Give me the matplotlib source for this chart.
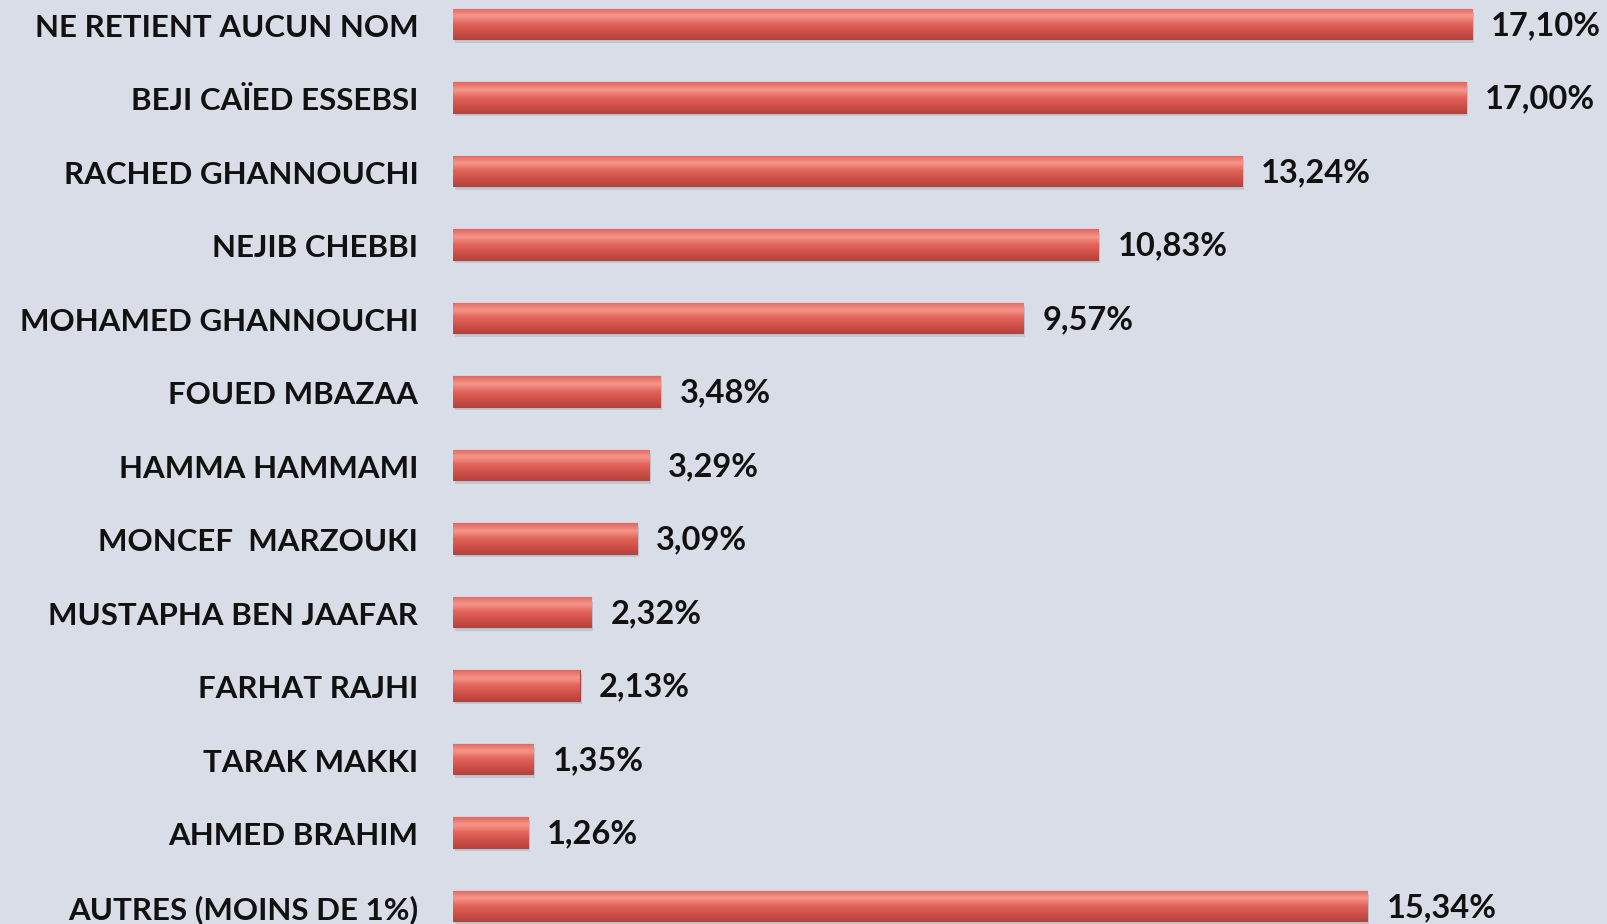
import numpy as np
import matplotlib.pyplot as plt
from matplotlib.colors import LinearSegmentedColormap

names = ['NE RETIENT AUCUN NOM', 'BEJI CAÏED ESSEBSI', 'RACHED GHANNOUCHI',
         'NEJIB CHEBBI', 'MOHAMED GHANNOUCHI', 'FOUED MBAZAA', 'HAMMA HAMMAMI',
         'MONCEF  MARZOUKI', 'MUSTAPHA BEN JAAFAR', 'FARHAT RAJHI',
         'TARAK MAKKI', 'AHMED BRAHIM', 'AUTRES (MOINS DE 1%)']
values = [17.10, 17.00, 13.24, 10.83, 9.57, 3.48, 3.29, 3.09, 2.32, 2.13, 1.35, 1.26, 15.34]
value_labels = ['17,10%', '17,00%', '13,24%', '10,83%', '9,57%', '3,48%', '3,29%',
                '3,09%', '2,32%', '2,13%', '1,35%', '1,26%', '15,34%']

plt.rcParams['font.family'] = ['Lato', 'DejaVu Sans']
plt.rcParams['font.weight'] = 'bold'

fig = plt.figure(figsize=(16.07, 9.24), dpi=100)
fig.patch.set_facecolor('#d9dde7')
ax = fig.add_axes([453/1607, 0, 1 - 453/1607, 1])
ax.set_facecolor('#d9dde7')

y = np.arange(len(names))
h = 0.41
# soft shadow under each bar
ax.barh(y + 0.05, values, height=h, left=0.03, color='#9a9aa8', alpha=0.35, zorder=1)
bars = ax.barh(y, values, height=h, color='#d4544c', edgecolor='#a9453f', lw=0.8, zorder=2)

# vertical gradient inside bars: light band near top, darker bottom
cmap = LinearSegmentedColormap.from_list('bar', ['#e0675e', '#f6968c', '#e2645b', '#cf5149', '#b8433d'])
grad = np.linspace(0, 1, 64).reshape(-1, 1)
for b in bars:
    x0, y0 = b.get_x(), b.get_y()
    w, hh = b.get_width(), b.get_height()
    im = ax.imshow(grad, cmap=cmap, aspect='auto', extent=(x0, x0 + w, y0 + hh, y0),
                   zorder=3, interpolation='bicubic')
    im.set_clip_path(b)

for yi, v, lab in zip(y, values, value_labels):
    ax.text(v + 0.32, yi + 0.02, lab, va='center', ha='left', fontsize=23.5, fontweight='bold', color='#111111')

ax.set_yticks(y + 0.02)
ax.set_yticklabels(names, fontsize=22.5, fontweight='bold', color='#111111')
ax.tick_params(axis='y', length=0, pad=25)
ax.set_xticks([])
ax.set_xlim(0, 1154 / 59.6)
ax.set_ylim(12.245, -0.327)
for s in ax.spines.values():
    s.set_visible(False)

fig.savefig('out.png', dpi=100, facecolor=fig.get_facecolor())
